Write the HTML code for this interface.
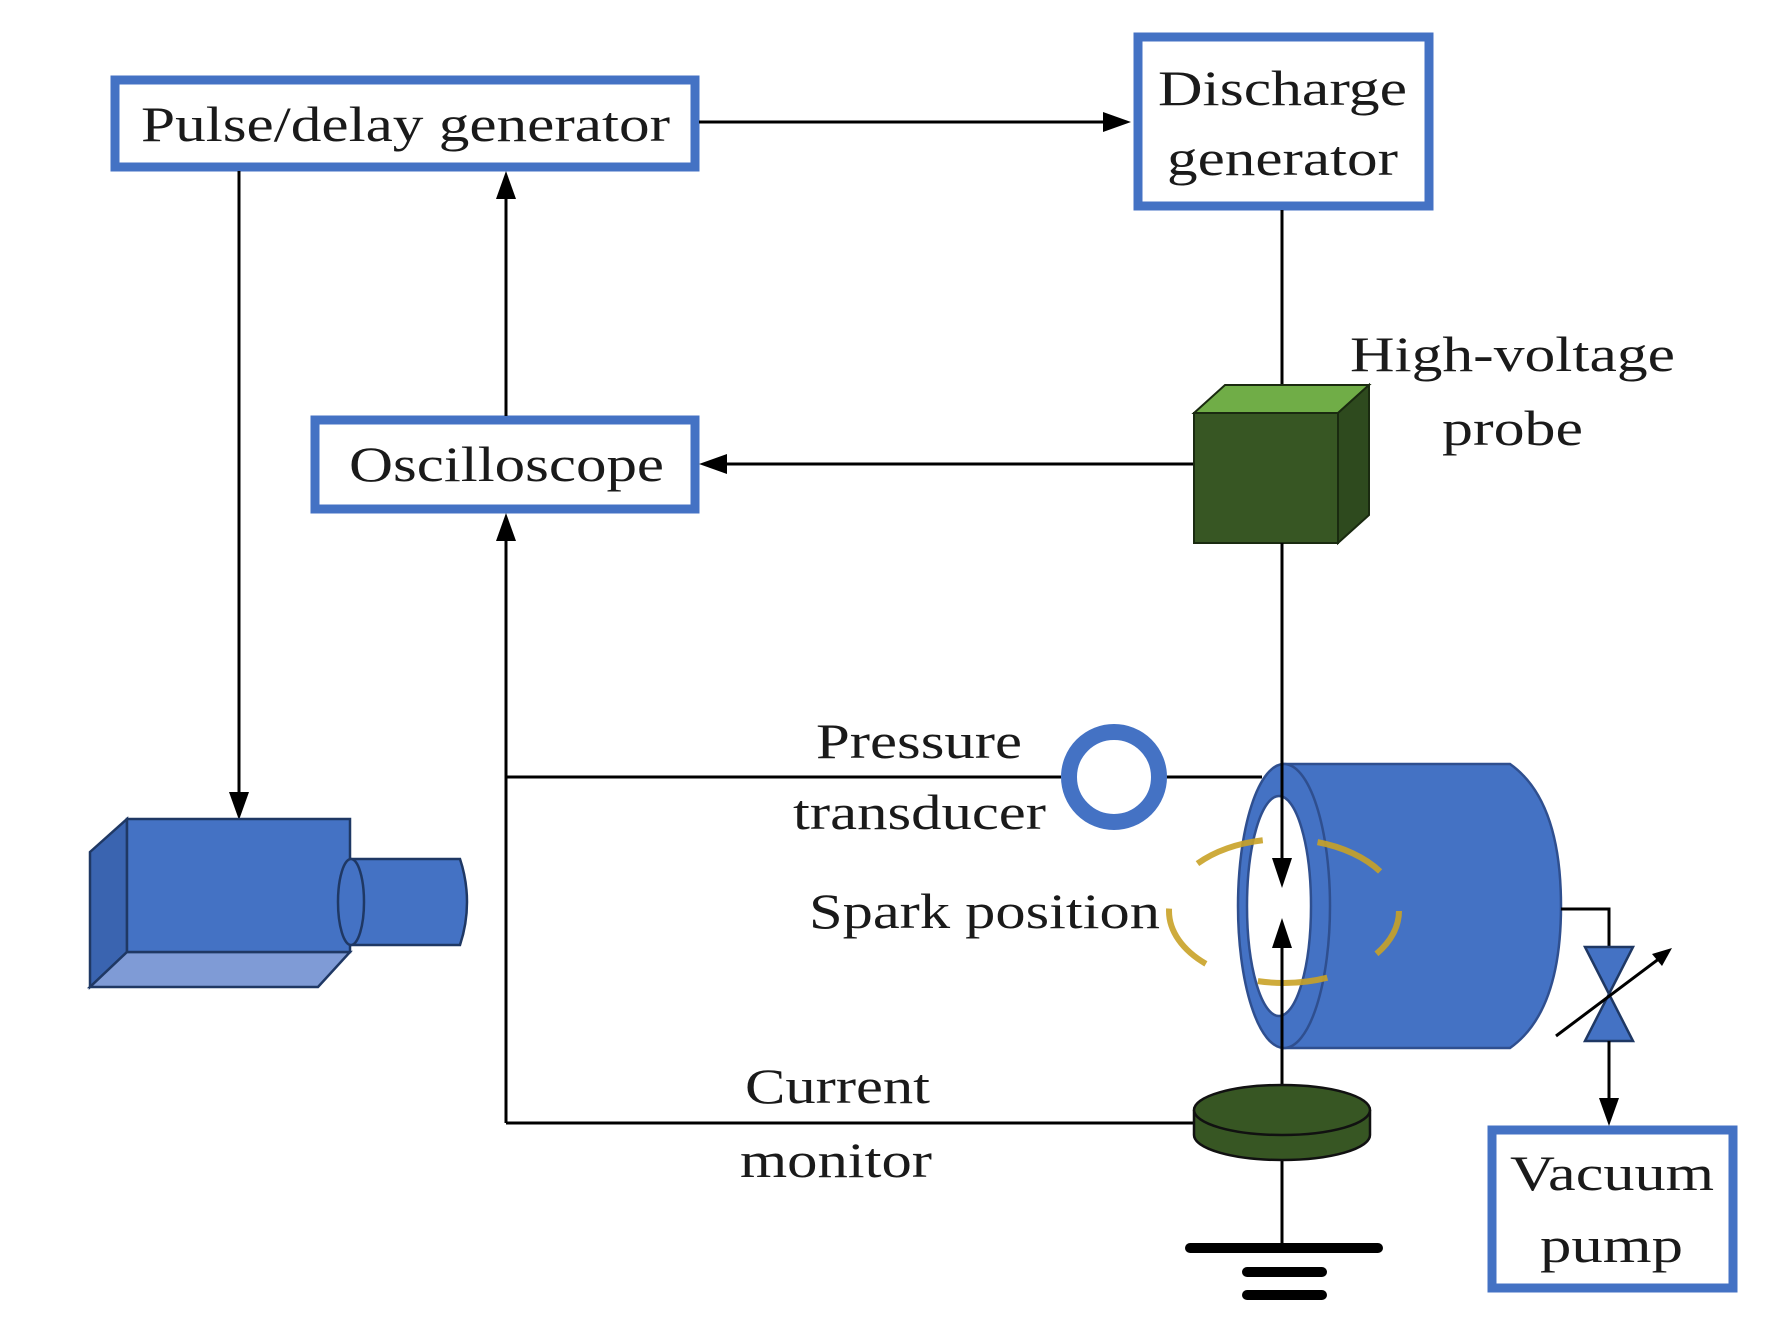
<!DOCTYPE html>
<html><head><meta charset="utf-8"><style>
html,body{margin:0;padding:0;background:#fff}
svg{display:block}
text{font-family:"Liberation Serif",serif;fill:#1a1a1a}
</style></head><body>
<svg width="1765" height="1328" viewBox="0 0 1765 1328" xmlns="http://www.w3.org/2000/svg">
<defs>
<marker id="ah" markerWidth="10" markerHeight="10" refX="9" refY="5" orient="auto" markerUnits="userSpaceOnUse">
</marker>
</defs>
<g fill="none" stroke="#4472C4" stroke-width="9">
<rect x="115" y="80" width="580" height="87" fill="#fff"/>
<rect x="1138" y="37" width="291" height="169" fill="#fff"/>
<rect x="315" y="420" width="380" height="89" fill="#fff"/>
<rect x="1492" y="1130" width="241" height="158" fill="#fff"/>
</g>
<g font-size="50">
<text x="141" y="141" textLength="529" lengthAdjust="spacingAndGlyphs">Pulse/delay generator</text>
<text x="1158" y="105" textLength="249" lengthAdjust="spacingAndGlyphs">Discharge</text>
<text x="1167" y="175" textLength="231" lengthAdjust="spacingAndGlyphs">generator</text>
<text x="349" y="481" textLength="315" lengthAdjust="spacingAndGlyphs">Oscilloscope</text>
<text x="1350" y="371" textLength="325" lengthAdjust="spacingAndGlyphs">High-voltage</text>
<text x="1442" y="445" textLength="141" lengthAdjust="spacingAndGlyphs">probe</text>
<text x="816" y="758" textLength="206" lengthAdjust="spacingAndGlyphs">Pressure</text>
<text x="793" y="829" textLength="253" lengthAdjust="spacingAndGlyphs">transducer</text>
<text x="809" y="928" textLength="351" lengthAdjust="spacingAndGlyphs">Spark position</text>
<text x="745" y="1103" textLength="185" lengthAdjust="spacingAndGlyphs">Current</text>
<text x="740" y="1177" textLength="192" lengthAdjust="spacingAndGlyphs">monitor</text>
<text x="1510" y="1190" textLength="204" lengthAdjust="spacingAndGlyphs">Vacuum</text>
<text x="1540" y="1262" textLength="143" lengthAdjust="spacingAndGlyphs">pump</text>
</g>
<g stroke="#000" stroke-width="3" fill="none">
<line x1="699" y1="122" x2="1110" y2="122"/>
<line x1="239" y1="171" x2="239" y2="800"/>
<line x1="506" y1="416" x2="506" y2="192"/>
<line x1="506" y1="1123" x2="506" y2="535"/>
<line x1="506" y1="1123" x2="1194" y2="1123"/>
<line x1="506" y1="777" x2="1061" y2="777"/>
<line x1="1165" y1="777" x2="1262" y2="777"/>
<line x1="1282" y1="210" x2="1282" y2="390"/>
<line x1="1194" y1="464" x2="722" y2="464"/>
</g>
<g fill="#000">
<polygon points="1131,122 1103,112 1103,132"/>
<polygon points="239,820 229,792 249,792"/>
<polygon points="506,171 496,199 516,199"/>
<polygon points="506,513 496,541 516,541"/>
<polygon points="699,464 727,454 727,474"/>
</g>
<!-- camera -->
<g stroke="#1F3864" stroke-width="2.5">
<polygon points="90,852 127,819 127,952 90,987" fill="#3A64B0"/>
<polygon points="90,987 127,952 350,952 318,987" fill="#7F9BD6"/>
<rect x="127" y="819" width="223" height="133" fill="#4472C4"/>
<path d="M351,859 L460,859 Q467,880 467,902 Q467,924 460,945 L351,945 Z" fill="#4472C4"/>
<ellipse cx="351" cy="902" rx="13" ry="43" fill="#4472C4"/>
</g>
<!-- probe cube -->
<g stroke="#1a2a10" stroke-width="2">
<polygon points="1194,413 1225,385 1369,385 1338,413" fill="#70AD47"/>
<polygon points="1338,413 1369,385 1369,515 1338,543" fill="#2E4A1E"/>
<rect x="1194" y="413" width="144" height="130" fill="#375623"/>
</g>
<!-- cylinder -->
<g stroke="#2F4F8F" stroke-width="2.5">
<path d="M1284,764 L1510,764 Q1561,800 1561,906 Q1561,1012 1510,1048 L1284,1048 Z" fill="#4472C4"/>
<ellipse cx="1284" cy="906" rx="46" ry="142" fill="#4472C4"/>
<ellipse cx="1279" cy="906" rx="32" ry="110" fill="#fff"/>
</g>
<ellipse cx="1284" cy="911" rx="115" ry="72" fill="none" stroke="#C9A227" stroke-width="6" stroke-dasharray="70 55" stroke-dashoffset="20" opacity="0.9"/>
<!-- ring -->
<circle cx="1114" cy="777" r="45" fill="none" stroke="#4472C4" stroke-width="16"/>
<!-- spark vertical lines -->
<g stroke="#000" stroke-width="3">
<line x1="1282" y1="543" x2="1282" y2="880"/>
<line x1="1282" y1="1095" x2="1282" y2="930"/>
<line x1="1282" y1="1150" x2="1282" y2="1248"/>
</g>
<polygon points="1282,888 1272,858 1292,858" fill="#000"/>
<polygon points="1282,918 1272,948 1292,948" fill="#000"/>
<!-- current monitor -->
<g stroke="#111" stroke-width="2.5">
<path d="M1194,1110 L1194,1135 A88,25 0 0 0 1370,1135 L1370,1110" fill="#375623"/>
<ellipse cx="1282" cy="1110" rx="88" ry="25" fill="#375623"/>
</g>
<g stroke="#000" stroke-width="10" stroke-linecap="round">
<line x1="1190" y1="1248" x2="1378" y2="1248"/>
<line x1="1247" y1="1272" x2="1322" y2="1272"/>
<line x1="1247" y1="1295" x2="1322" y2="1295"/>
</g>
<!-- valve -->
<polyline points="1561,909 1609,909 1609,947" fill="none" stroke="#000" stroke-width="3"/>
<g stroke="#1F3864" stroke-width="2.5" fill="#4472C4">
<polygon points="1585,947 1633,947 1609,994"/>
<polygon points="1585,1041 1633,1041 1609,994"/>
</g>
<line x1="1556" y1="1036" x2="1668" y2="952" stroke="#000" stroke-width="3"/>
<polygon points="1672,948 1652,954 1662,966" fill="#000"/>
<line x1="1609" y1="1041" x2="1609" y2="1105" stroke="#000" stroke-width="3"/>
<polygon points="1609,1126 1599,1098 1619,1098" fill="#000"/>
</svg>
</body></html>
